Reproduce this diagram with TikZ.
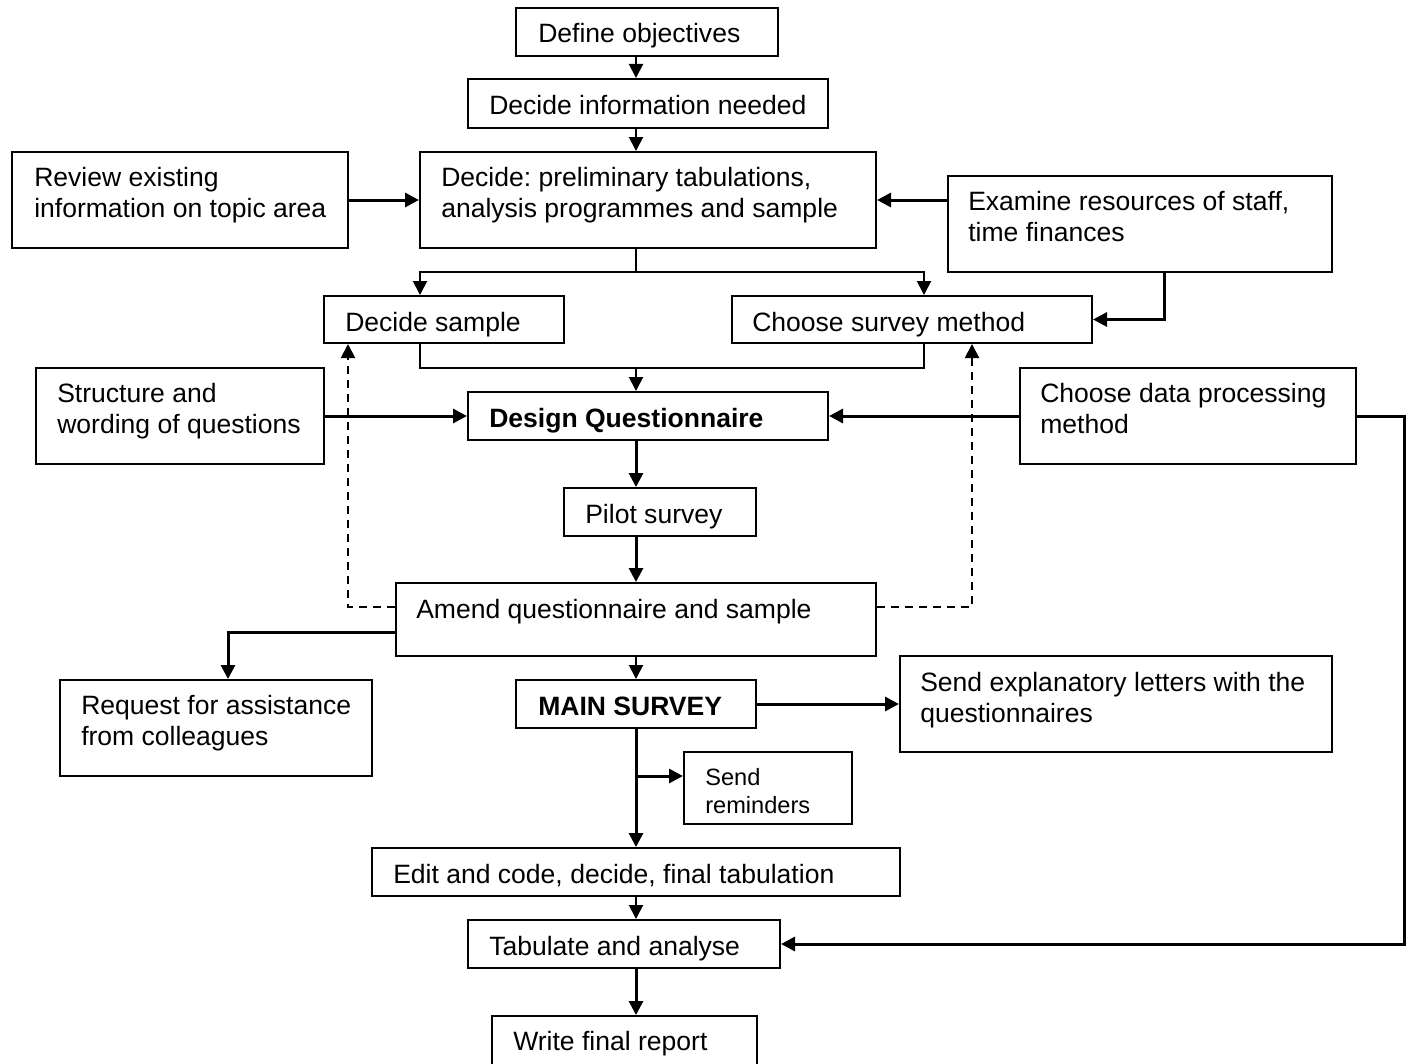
\documentclass[tikz,border=0pt]{standalone}
\usepackage{fontspec}
\setmainfont{Liberation Sans}
\usetikzlibrary{arrows.meta,fit}
\frenchspacing

% a framed step: name, top-left x/y, bottom-right x/y
\newcommand\flowbox[5]{%
  \path (#2,#3) coordinate (#1-nw) (#4,#5) coordinate (#1-se);
  \node[box, fit=(#1-nw)(#1-se)] (#1) {};}

\begin{document}
\begin{tikzpicture}[x=0.75pt,y=-0.75pt,
  box/.style={draw, line width=1.5pt, inner sep=0pt},
  % texts are placed by the baseline of their last line
  txt/.style={inner sep=0pt, align=left, anchor=base west,
              font=\fontsize{19.9pt}{22.9pt}\selectfont},
  small/.style={font=\fontsize{17.7pt}{21pt}\selectfont},
  link/.style={line width=1.5pt, -{Triangle[length=10.5pt,width=10.5pt]}},
  heavy/.style={link, line width=2.25pt},
  plain/.style={line width=1.5pt},
  back/.style={link, dash pattern=on 6pt off 4.5pt}]

\useasboundingbox (0,0) rectangle (1412,1063);
\clip (0,0) rectangle (1412,1063);

% boxes
\flowbox{def}{516}{8}{778}{56}
\flowbox{info}{468}{79}{828}{128}
\flowbox{rev}{12}{152}{348}{248}
\flowbox{pre}{420}{152}{876}{248}
\flowbox{exa}{948}{176}{1332}{272}
\flowbox{sam}{324}{296}{564}{343}
\flowbox{met}{732}{296}{1092}{343}
\flowbox{str}{36}{368}{324}{464}
\flowbox{des}{468}{392}{828}{440}
\flowbox{dat}{1020}{368}{1356}{464}
\flowbox{pil}{564}{488}{756}{536}
\flowbox{ame}{396}{583}{876}{656}
\flowbox{req}{60}{680}{372}{776}
\flowbox{mai}{516}{680}{756}{728}
\flowbox{let}{900}{656}{1332}{752}
\flowbox{rem}{684}{752}{852}{824}
\flowbox{edi}{372}{848}{900}{896}
\flowbox{tab}{468}{920}{780}{968}
\flowbox{wri}{492}{1016}{757}{1080}

% texts
\node[txt] (def-t) at (538,43) {Define objectives};
\node[txt] (info-t) at (489,114) {Decide information needed};
\node[txt] (rev-t) at (34,217) {Review existing\\information on topic area};
\node[txt] (pre-t) at (441,217) {Decide: preliminary tabulations,\\analysis programmes and sample};
\node[txt] (exa-t) at (968,241) {Examine resources of staff,\\time finances};
\node[txt] (sam-t) at (345,331) {Decide sample};
\node[txt] (met-t) at (752,331) {Choose survey method};
\node[txt] (str-t) at (57,433) {Structure and\\wording of questions};
\node[txt] (des-t) at (489,427) {\bfseries Design Questionnaire};
\node[txt] (dat-t) at (1040,433) {Choose data processing\\method};
\node[txt] (pil-t) at (585,523) {Pilot survey};
\node[txt] (ame-t) at (416,618) {Amend questionnaire and sample};
\node[txt] (req-t) at (81,745) {Request for assistance\\from colleagues};
\node[txt] (mai-t) at (538,715) {\bfseries MAIN SURVEY};
\node[txt] (let-t) at (920,722) {Send explanatory letters with the\\questionnaires};
\node[txt, small] (rem-t) at (705,813) {Send\\reminders};
\node[txt] (edi-t) at (393,883) {Edit and code, decide, final tabulation};
\node[txt] (tab-t) at (489,955) {Tabulate and analyse};
\node[txt] (wri-t) at (513,1050) {Write final report};

% guide columns and rows for the connectors
\coordinate (cx) at (636,0);
\coordinate (lx) at (420,0);
\coordinate (rx) at (924,0);
\coordinate (ex) at (1164,0);
\coordinate (dl) at (348,0);
\coordinate (dr) at (972,0);
\coordinate (qx) at (228,0);
\coordinate (rc) at (1404,0);
\coordinate (dy) at (0,607);
\coordinate (qy) at (0,632);
\coordinate (split) at (636,272);
\coordinate (mg) at (636,368);
\coordinate (br) at (636,776);

% main flow
\draw[link] (def.south -| cx) -- (info.north -| cx);
\draw[link] (info.south -| cx) -- (pre.north -| cx);
\draw[heavy] (rev.east) -- (pre.west);
\draw[heavy] (exa.west |- pre.west) -- (pre.east);
\draw[plain] (pre.south -| cx) -- (split);
\draw[link] (split) -| (sam.north -| lx);
\draw[link] (split) -| (met.north -| rx);
\draw[heavy] (exa.south -| ex) |- (met.east);
\draw[plain] (sam.south -| lx) |- (mg) -| (met.south -| rx);
\draw[link] (mg) -- (des.north -| cx);
\draw[heavy] (str.east) -- (des.west);
\draw[heavy] (dat.west) -- (des.east);
\draw[heavy] (dat.east) -| (rc |- tab.east) -- (tab.east);
\draw[heavy] (des.south -| cx) -- (pil.north -| cx);
\draw[heavy] (pil.south -| cx) -- (ame.north -| cx);
\draw[back] (ame.west |- dy) -| (sam.south -| dl);
\draw[back] (ame.east |- dy) -| (met.south -| dr);
\draw[heavy] (ame.west |- qy) -| (req.north -| qx);
\draw[link] (ame.south -| cx) -- (mai.north -| cx);
\draw[heavy] (mai.east) -- (let.west);
\draw[heavy] (mai.south -| cx) -- (edi.north -| cx);
\draw[heavy] (br) -- (rem.west |- br);
\draw[link] (edi.south -| cx) -- (tab.north -| cx);
\draw[heavy] (tab.south -| cx) -- (wri.north -| cx);
\end{tikzpicture}
\end{document}
